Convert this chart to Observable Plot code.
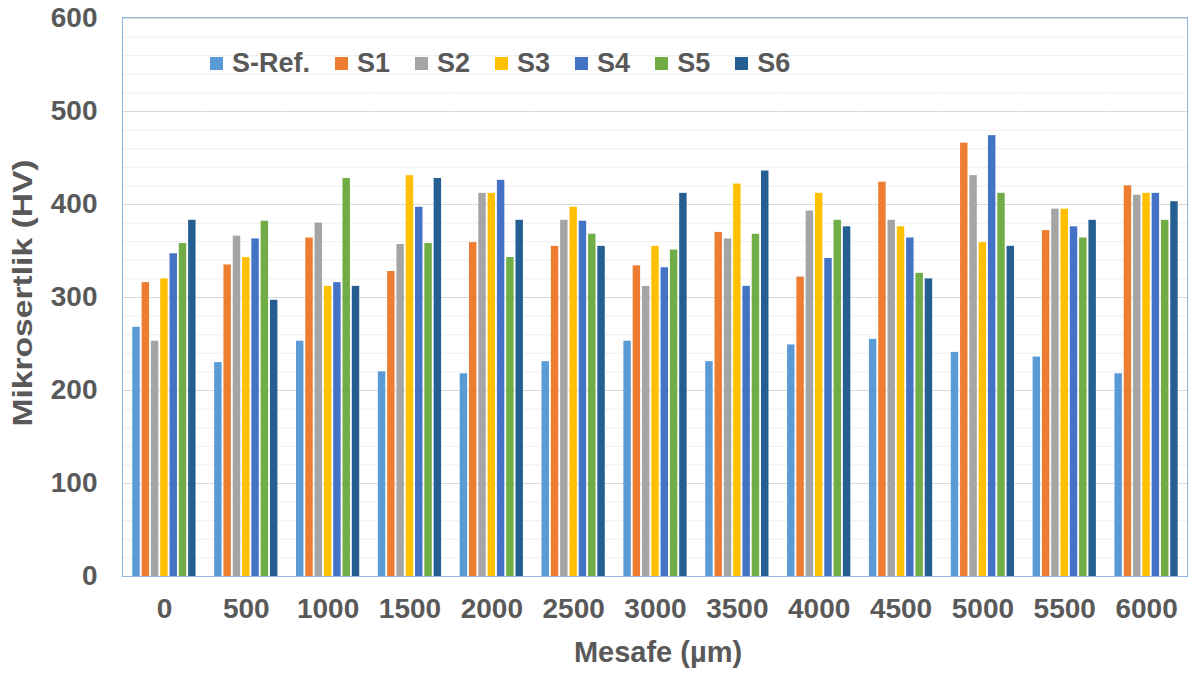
<!DOCTYPE html>
<html><head><meta charset="utf-8">
<script src="https://cdn.jsdelivr.net/npm/d3@7"></script>
<script src="https://cdn.jsdelivr.net/npm/@observablehq/plot@0.6"></script>
<style>
body{margin:0;background:#fff;font-family:"Liberation Sans",Arial,sans-serif;}
#wrap{position:relative;width:1194px;height:679px;overflow:hidden;background:#fff}
#wrap svg{position:absolute;left:0;top:0}
.frame{position:absolute;left:122px;top:17px;width:1066px;height:560px;box-sizing:border-box;border:1.5px solid #8db6e3;pointer-events:none}
.legend{position:absolute;left:210px;top:50px;display:flex;align-items:center;font-size:27px;font-weight:bold;color:#595959;line-height:1}
.legend .item{display:flex;align-items:center;margin-right:25px}
.legend .sw{width:13px;height:13px;margin-right:9px}
.ytitle{position:absolute;left:23px;top:293px;transform:translate(-50%,-50%) rotate(-90deg) scaleX(1.2);white-space:nowrap;font-size:28px;font-weight:bold;color:#595959;line-height:1}
.xtitle{position:absolute;left:658px;top:638px;transform:translateX(-50%);white-space:nowrap;font-size:29px;font-weight:bold;color:#595959;line-height:1}
</style></head><body><div id="wrap"></div>
<script>
const distances = ["0","500","1000","1500","2000","2500","3000","3500","4000","4500","5000","5500","6000"];
const seriesNames = ["S-Ref.","S1","S2","S3","S4","S5","S6"];
const seriesColors = ["#5B9BD5","#ED7D31","#A5A5A5","#FFC000","#4472C4","#70AD47","#255E91"];
const sRef = [268,230,253,220,218,231,253,231,249,255,241,236,218];
const s1   = [316,335,364,328,359,355,334,370,322,424,466,372,420];
const s2   = [253,366,380,357,412,383,312,363,393,383,431,395,410];
const s3   = [320,343,312,431,412,397,355,422,412,376,359,395,412];
const s4   = [347,363,316,397,426,382,332,312,342,364,474,376,412];
const s5   = [358,382,428,358,343,368,351,368,383,326,412,364,383];
const s6   = [383,297,312,428,383,355,412,436,376,320,355,383,403];
const yTicks = [0,100,200,300,400,500,600];
const yMinor = d3.range(0, 601, 20);
const yTitle = "Mikrosertlik (HV)";
const xTitle = "Mesafe (µm)";

const seriesValues = [sRef, s1, s2, s3, s4, s5, s6];
const data = [];
distances.forEach((d, i) => {
  seriesNames.forEach((s, j) => data.push({dist: d, series: s, value: seriesValues[j][i]}));
});

const plot = Plot.plot({
  width: 1194,
  height: 679,
  marginLeft: 123,
  marginRight: 7,
  marginTop: 18,
  marginBottom: 103,
  style: {fontFamily: "'Liberation Sans', Arial, sans-serif", fontSize: "28px", fontWeight: "bold", color: "#595959", background: "white", overflow: "visible"},
  fx: {domain: distances, paddingInner: 0, paddingOuter: 0, round: false, tickSize: 0, tickPadding: 22, label: null},
  x: {domain: seriesNames, paddingInner: 0.2, paddingOuter: 1.0, round: false, axis: null},
  y: {domain: [0, 600], ticks: yTicks, tickSize: 0, tickPadding: 26, label: null, tickFormat: d => String(d)},
  color: {domain: seriesNames, range: seriesColors},
  marks: [
    Plot.ruleY(yMinor, {stroke: "#efefef", strokeWidth: 1}),
    Plot.ruleY(yTicks, {stroke: "#d9d9d9", strokeWidth: 1}),
    Plot.barY(data, {fx: "dist", x: "series", y: "value", fill: "series", insetLeft: 0, insetRight: 0})
  ]
});

const wrap = document.getElementById("wrap");
wrap.appendChild(plot);

const frame = document.createElement("div");
frame.className = "frame";
wrap.appendChild(frame);

const legend = document.createElement("div");
legend.className = "legend";
seriesNames.forEach((s, j) => {
  const it = document.createElement("div");
  it.className = "item";
  const sw = document.createElement("div");
  sw.className = "sw";
  sw.style.background = seriesColors[j];
  const tx = document.createElement("span");
  tx.textContent = s;
  it.appendChild(sw); it.appendChild(tx);
  legend.appendChild(it);
});
wrap.appendChild(legend);

const yt = document.createElement("div");
yt.className = "ytitle"; yt.textContent = yTitle;
wrap.appendChild(yt);
const xt = document.createElement("div");
xt.className = "xtitle"; xt.textContent = xTitle;
wrap.appendChild(xt);
</script>
</body></html>
